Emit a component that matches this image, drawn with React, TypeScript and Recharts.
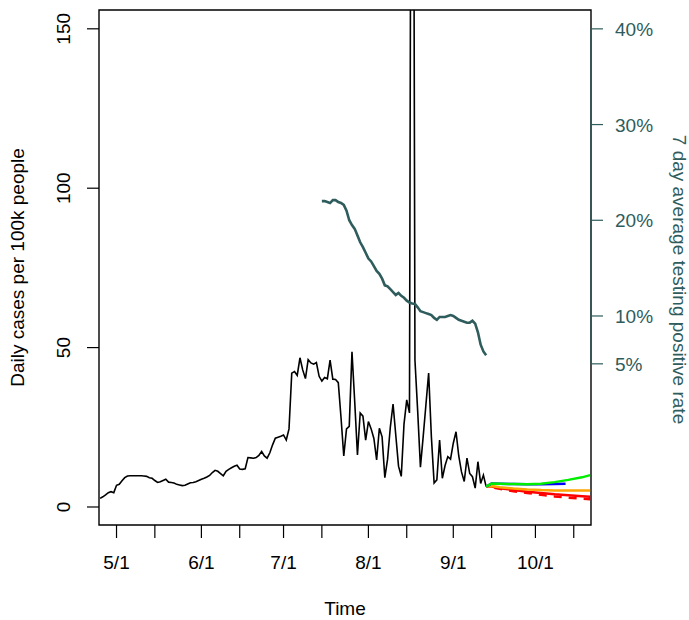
import {
  ComposedChart,
  Line,
  XAxis,
  YAxis,
  ReferenceArea,
  ReferenceLine,
} from 'recharts';

const TEAL = '#2F5C5C';
const FONT = "'Liberation Sans', Arial, Helvetica, sans-serif";

// days counted from May 1 (day 0)
const X_DOMAIN: [number, number] = [-6.4, 173.3];
const CASES_DOMAIN: [number, number] = [-5.65, 155.9];
const RATE_DOMAIN: [number, number] = [-11.84, 41.97];

const monthTickDays = [0, 31, 61, 92, 123, 153];
const monthTickLabels = ['5/1', '6/1', '7/1', '8/1', '9/1', '10/1'];
const midTickDays = [14, 45, 75, 106, 137, 167];

const caseTicks = [0, 50, 100, 150];
const rateTicks = [5, 10, 20, 30, 40];

// daily cases per 100k, day -6 (Apr 25) .. day 135 (Sep 13)
const casesStartDay = -6;
const dailyCases = [
  2.7, 3.2, 3.8, 4.5, 4.8, 4.5, 6.8, 7.1, 8.2, 9.2,
  9.7, 9.8, 9.8, 9.8, 9.8, 9.8, 9.7, 9.6, 9.2, 9.0,
  8.3, 7.7, 7.9, 8.3, 8.7, 7.8, 7.7, 7.5, 7.1, 6.9,
  6.7, 6.8, 7.2, 7.6, 7.7, 7.9, 8.3, 8.7, 9.0, 9.4,
  9.9, 10.8, 11.5, 11.2, 10.5, 9.8, 11.2, 11.8, 12.3, 12.8,
  13.1, 11.9, 11.8, 12.0, 15.5, 15.4, 15.3, 15.5, 16.2, 17.4,
  16.0, 15.3, 17.0, 19.5, 21.6, 21.9, 22.2, 22.6, 21.0, 24.5,
  42.0, 42.5, 41.3, 46.8, 43.0, 40.3, 46.2, 45.2, 44.8, 45.3,
  41.0, 39.5, 40.6, 40.2, 46.1, 40.1, 40.0, 39.0, 28.0, 16.0,
  24.5, 25.3, 48.7, 33.0, 16.3, 29.5, 28.5, 21.0, 26.8, 24.5,
  21.5, 14.8, 24.7, 22.0, 9.2, 15.0, 25.0, 32.3, 22.5, 12.8,
  9.6, 26.0, 33.6, 29.5, 400, 46, 30, 12.5, 22, 32,
  42, 22, 7.5, 8.5, 21, 9, 13, 15.8, 15, 20,
  23.6, 16, 11, 8, 15.3, 10.5, 9.5, 5.9, 14.2, 7.4,
  10, 6.4,
];

// 7 day average testing positive rate (%), day 75 .. day 135
const rateStartDay = 75;
const positiveRate = [
  22.0, 22.0, 21.9, 21.8, 22.1, 22.1, 21.9, 21.8, 21.6, 21.0,
  20.0, 19.5, 19.1, 18.4, 17.7, 17.2, 16.6, 16.0, 15.7, 15.2,
  14.7, 14.4, 13.9, 13.2, 13.1, 12.8, 12.5, 12.2, 12.4, 12.1,
  11.9, 11.6, 11.4, 11.3, 11.25, 10.9, 10.5, 10.4, 10.3, 10.2,
  10.1, 9.8, 9.6, 9.9, 9.9, 9.9, 10.0, 10.1, 10.0, 9.8,
  9.6, 9.5, 9.4, 9.3, 9.3, 9.5, 9.2, 8.3, 7.0, 6.3,
  5.9,
];

// projections
const forecastDays = [135, 137, 140, 145, 150, 155, 160, 165, 170, 173];
const greenForecast = [6.4, 7.4, 7.3, 7.2, 7.1, 7.3, 7.8, 8.5, 9.3, 10.0];
const orangeForecast = [6.4, 6.6, 6.2, 5.8, 5.5, 5.3, 5.2, 5.2, 5.2, 5.2];
const redForecast = [6.4, 6.4, 5.9, 5.3, 4.8, 4.4, 4.0, 3.7, 3.4, 3.2];
const blueDays = [135, 137, 140, 145, 150, 155, 160, 164];
const blueForecast = [6.4, 7.4, 7.3, 7.2, 7.1, 7.1, 7.2, 7.3];
const redLowDays = [138, 145, 150, 155, 160, 165, 170, 173];
const redLowForecast = [6.0, 4.9, 4.4, 3.8, 3.3, 2.9, 2.6, 2.4];

type Row = { day: number; [k: string]: number };

function buildTable(): Row[] {
  const rows = new Map<number, Row>();
  const put = (day: number, key: string, v: number) => {
    if (!rows.has(day)) rows.set(day, { day });
    rows.get(day)![key] = v;
  };
  dailyCases.forEach((v, i) => put(casesStartDay + i, 'cases', v));
  positiveRate.forEach((v, i) => put(rateStartDay + i, 'rate', v));
  forecastDays.forEach((d, i) => {
    put(d, 'green', greenForecast[i]);
    put(d, 'orange', orangeForecast[i]);
    put(d, 'red', redForecast[i]);
  });
  blueDays.forEach((d, i) => put(d, 'blue', blueForecast[i]));
  redLowDays.forEach((d, i) => put(d, 'redLow', redLowForecast[i]));
  return [...rows.values()].sort((a, b) => a.day - b.day);
}

const data = buildTable();

function DateTick(props: any) {
  const { x, y, payload } = props;
  const i = monthTickDays.indexOf(payload.value);
  if (i < 0) return <g />;
  return (
    <text x={x} y={y + 29} textAnchor="middle" fontSize={19} fontFamily={FONT} fill="#000">
      {monthTickLabels[i]}
    </text>
  );
}

function CasesTick(props: any) {
  const { x, y, payload } = props;
  const bx = x - 14.5;
  return (
    <text
      x={bx}
      y={y}
      transform={`rotate(-90 ${bx} ${y})`}
      textAnchor="middle"
      fontSize={19}
      fontFamily={FONT}
      fill="#000"
    >
      {payload.value}
    </text>
  );
}

function RateTick(props: any) {
  const { x, y, payload } = props;
  return (
    <text x={x + 10} y={y + 7} textAnchor="start" fontSize={19} fontFamily={FONT} fill={TEAL}>
      {payload.value}%
    </text>
  );
}

function LeftTitle(props: any) {
  const vb = props.viewBox;
  const cx = vb.x + 24;
  const cy = vb.y + vb.height / 2;
  return (
    <text x={cx} y={cy} transform={`rotate(-90 ${cx} ${cy})`} textAnchor="middle" fontSize={19} fontFamily={FONT} fill="#000">
      Daily cases per 100k people
    </text>
  );
}

function RightTitle(props: any) {
  const vb = props.viewBox;
  const cx = vb.x + 82;
  const cy = vb.y + vb.height / 2 + 12;
  return (
    <text x={cx} y={cy} transform={`rotate(90 ${cx} ${cy})`} textAnchor="middle" fontSize={19} fontFamily={FONT} fill={TEAL}>
      7 day average testing positive rate
    </text>
  );
}

function BottomTitle(props: any) {
  const vb = props.viewBox;
  return (
    <text x={vb.x + vb.width / 2} y={vb.y + 90} textAnchor="middle" fontSize={19} fontFamily={FONT} fill="#000">
      Time
    </text>
  );
}

export default function App() {
  return (
    <div style={{ position: 'absolute', left: 0, top: 0, background: '#fff', fontFamily: FONT }}>
      <ComposedChart
        width={689}
        height={620}
        data={data}
        margin={{ top: 10, right: 0, bottom: 0, left: 0 }}
      >
        <XAxis
          dataKey="day"
          type="number"
          domain={X_DOMAIN}
          allowDataOverflow
          ticks={[...monthTickDays, ...midTickDays].sort((a, b) => a - b)}
          interval={0}
          tick={<DateTick />}
          tickSize={13}
          tickLine={{ stroke: '#000', strokeWidth: 1.2 }}
          axisLine={false}
          height={95}
          label={<BottomTitle />}
        />
        <YAxis
          yAxisId="cases"
          orientation="left"
          type="number"
          domain={CASES_DOMAIN}
          allowDataOverflow
          ticks={caseTicks}
          interval={0}
          tick={<CasesTick />}
          tickSize={12}
          tickLine={{ stroke: '#000', strokeWidth: 1.2 }}
          axisLine={false}
          width={99}
          label={<LeftTitle />}
        />
        <YAxis
          yAxisId="rate"
          orientation="right"
          type="number"
          domain={RATE_DOMAIN}
          allowDataOverflow
          ticks={rateTicks}
          interval={0}
          tick={<RateTick />}
          tickSize={12}
          tickLine={{ stroke: TEAL, strokeWidth: 1.2 }}
          axisLine={false}
          width={98}
          label={<RightTitle />}
        />

        <Line
          yAxisId="cases"
          dataKey="cases"
          type="linear"
          stroke="#000"
          strokeWidth={1.6}
          dot={false}
          connectNulls
          isAnimationActive={false}
        />
        <Line
          yAxisId="rate"
          dataKey="rate"
          type="linear"
          stroke={TEAL}
          strokeWidth={2.6}
          dot={false}
          connectNulls
          isAnimationActive={false}
        />
        <Line
          yAxisId="cases"
          dataKey="redLow"
          type="linear"
          stroke="#FF0000"
          strokeWidth={2.5}
          strokeDasharray="8 7"
          dot={false}
          connectNulls
          isAnimationActive={false}
        />
        <Line
          yAxisId="cases"
          dataKey="red"
          type="linear"
          stroke="#FF0000"
          strokeWidth={2.5}
          dot={false}
          connectNulls
          isAnimationActive={false}
        />
        <Line
          yAxisId="cases"
          dataKey="orange"
          type="linear"
          stroke="#FFA500"
          strokeWidth={2.5}
          dot={false}
          connectNulls
          isAnimationActive={false}
        />
        <Line
          yAxisId="cases"
          dataKey="blue"
          type="linear"
          stroke="#0000FF"
          strokeWidth={2.5}
          dot={false}
          connectNulls
          isAnimationActive={false}
        />
        <Line
          yAxisId="cases"
          dataKey="green"
          type="linear"
          stroke="#00EE00"
          strokeWidth={2.5}
          dot={false}
          connectNulls
          isAnimationActive={false}
        />

        {/* plot box */}
        <ReferenceArea
          yAxisId="cases"
          x1={X_DOMAIN[0]}
          x2={X_DOMAIN[1]}
          y1={CASES_DOMAIN[0]}
          y2={CASES_DOMAIN[1]}
          fill="none"
          fillOpacity={0}
          stroke="#000"
          strokeWidth={1.4}
          ifOverflow="visible"
        />
        {/* right axis line, 5% to 40% */}
        <ReferenceLine
          yAxisId="rate"
          segment={[
            { x: X_DOMAIN[1], y: 40 },
            { x: X_DOMAIN[1], y: 5 },
          ]}
          stroke={TEAL}
          strokeWidth={1.4}
          ifOverflow="visible"
        />
      </ComposedChart>
    </div>
  );
}
